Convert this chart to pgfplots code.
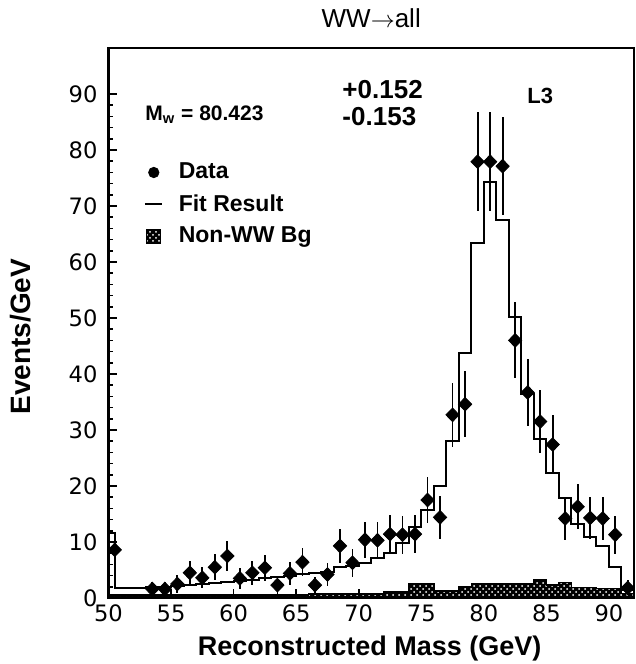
\documentclass[border=0pt]{standalone}
\usepackage{fontspec}
\setmainfont{Liberation Sans}
\newfontfamily\tickfont{DejaVu Sans}
\usepackage{pgfplots}
\pgfplotsset{compat=1.18}
\usepackage{pgfplotstable}
\usetikzlibrary{patterns,calc}

\pgfplotstableread{
x y e
50.5 8.6 2.93
53.5 1.6 1.26
54.5 1.6 1.26
55.5 2.5 1.58
56.5 4.5 2.12
57.5 3.6 1.90
58.5 5.5 2.35
59.5 7.5 2.74
60.5 3.5 1.87
61.5 4.5 2.12
62.5 5.4 2.32
63.5 2.3 1.52
64.5 4.4 2.10
65.5 6.4 2.53
66.5 2.3 1.52
67.5 4.2 2.05
68.5 9.3 3.05
69.5 6.3 2.51
70.5 10.4 3.22
71.5 10.3 3.21
72.5 11.4 3.38
73.5 11.3 3.36
74.5 11.4 3.38
75.5 17.5 4.18
76.5 14.4 3.79
77.5 32.7 5.72
78.5 34.6 5.88
79.5 77.9 8.83
80.5 77.9 8.83
81.5 77.1 8.78
82.5 46.0 6.78
83.5 36.7 6.06
84.5 31.5 5.61
85.5 27.4 5.23
86.5 14.2 3.77
87.5 16.3 4.04
88.5 14.3 3.78
89.5 14.2 3.77
90.5 11.3 3.36
91.5 1.8 1.34
}\datatable

\pgfplotstableread{
x y
50 11.6
50.5 1.8
51 1.8
52 1.8
53 1.9
54 2.0
55 2.1
56 2.3
57 2.5
58 2.7
59 2.9
60 3.1
61 3.3
62 3.6
63 3.8
64 4.0
65 4.2
66 4.4
67 4.6
68 5.6
69 5.8
70 6.3
71 7.1
72 8.1
73 9.8
74 12.7
75 15.7
76 20.0
77 28.0
78 43.7
79 63.3
80 74.3
81 67.5
82 50.2
83 36.5
84 28.3
85 22.4
86 17.8
87 13.3
88 10.9
89 9.2
90 5.6
91 1.5
92 1.5
}\fittable

\pgfplotstableread{
x y
50 0.5
66 0.7
72 1.1
74 2.6
76 1.3
78 2.0
79 2.5
84 3.2
85 2.3
86 2.8
87 1.9
89 1.7
91 0.8
92 0.8
}\bgtable

\begin{document}
\begin{tikzpicture}
\begin{axis}[name=ax, scale only axis, width=262.75pt, height=275pt,
  xmin=50, xmax=92, ymin=0, ymax=98.2,
  xtick={50,55,...,90}, ytick={0,10,...,90}, minor y tick num=4,
  xtick pos=bottom, ytick pos=left, tick align=inside,
  major tick length=4.5pt, minor tick length=2.5pt,
  every tick/.style={line width=0.8pt, black},
  axis line style={line width=1.2pt},
  tick label style={font=\tickfont\fontsize{11.3}{12}\selectfont},
  yticklabel style={xshift=-2pt},
  /pgf/number format/assume math mode=true,
  clip=false,
  xlabel={Reconstructed Mass (GeV)},
  xlabel style={at={(rel axis cs:0.497,-0.091)}, anchor=center, font=\bfseries\fontsize{13.5}{15}\selectfont},
  ylabel={Events/GeV},
  ylabel style={at={(rel axis cs:-0.168,0.475)}, anchor=center, rotate=0, font=\bfseries\fontsize{14}{16}\selectfont},
  legend style={draw=none, fill=none, at={(rel axis cs:0.055,0.806)}, anchor=north west,
    font=\bfseries\fontsize{11.5}{13}\selectfont, row sep=2.3pt,
    /tikz/every odd column/.append style={column sep=6pt}},
  legend cell align=left,
]
\addlegendimage{legend image code/.code={\fill[black] (4.5pt,0pt) circle (2.6pt);}}
\addlegendentry{Data}
\addlegendimage{legend image code/.code={\draw[line width=1pt] (0pt,0pt) -- (8.5pt,0pt);}}
\addlegendentry{Fit Result}
\addlegendimage{legend image code/.code={\fill[black] (1pt,-3.5pt) rectangle (8pt,3.5pt); \fill[pattern=crosshatch dots, pattern color=white] (1pt,-3.5pt) rectangle (8pt,3.5pt);}}
\addlegendentry{Non-WW Bg}

\addplot[const plot, draw=black, line width=0.8pt, fill=black, postaction={pattern=crosshatch dots, pattern color=white}, forget plot]
  table[x=x,y=y] {\bgtable} \closedcycle;
\addplot[const plot, draw=black, line width=1pt, forget plot]
  table[x=x,y=y] {\fittable};
\addplot[forget plot, only marks, mark=diamond*, mark size=3.4pt, mark options={xscale=1.3, fill=black, draw=black},
  error bars/.cd, y dir=both, y explicit, error bar style={line width=0.9pt}, error mark=none]
  table[x=x,y=y,y error=e] {\datatable};

\node[anchor=center, font=\fontsize{13}{15}\selectfont] at (rel axis cs:0.5,1.0545) {WW$\rightarrow$all};
\node[anchor=west, inner sep=0pt, font=\bfseries\fontsize{10.5}{12}\selectfont] at (axis cs:52.92,86.3) {M\textsubscript{w} = 80.423};
\node[anchor=west, inner sep=0pt, font=\bfseries\fontsize{13}{15}\selectfont] at (axis cs:68.67,90.7) {+0.152};
\node[anchor=west, inner sep=0pt, font=\bfseries\fontsize{13}{15}\selectfont] at (axis cs:68.67,85.9) {-0.153};
\node[anchor=center, inner sep=0pt, font=\bfseries\fontsize{11}{12}\selectfont] at (axis cs:84.5,89.6) {L3};
\end{axis}
\pgfresetboundingbox
\path[use as bounding box] ($(ax.south west)+(-54.25pt,-33pt)$) rectangle ($(ax.north east)+(0.6pt,24pt)$);
\end{tikzpicture}
\end{document}
